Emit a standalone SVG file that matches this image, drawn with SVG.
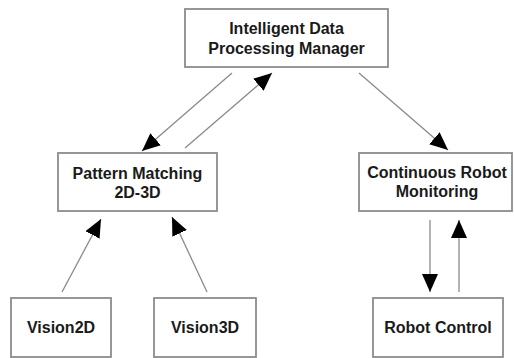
<svg xmlns="http://www.w3.org/2000/svg" width="514" height="358" viewBox="0 0 514 358">
<defs>
<style>
.box{fill:#fff;stroke:#8c8c8c;stroke-width:1.8}
.lbl{font-family:"Liberation Sans",Arial,sans-serif;font-weight:bold;font-size:16px;fill:#1a1a1a;text-anchor:middle}
.edge{stroke:#8a8a8a;stroke-width:1.3;fill:none;marker-end:url(#ah)}
</style>
<marker id="ah" markerUnits="userSpaceOnUse" markerWidth="19" markerHeight="17" refX="18" refY="8" orient="auto">
<path d="M0,0 L18,8 L0,16 Z" fill="#000"/>
</marker>
</defs>
<rect width="514" height="358" fill="#fff"/>
<g id="connectors">
<line class="edge" x1="232" y1="73" x2="142" y2="151"/>
<line class="edge" x1="185" y1="148" x2="272" y2="73"/>
<line class="edge" x1="359" y1="73" x2="448" y2="150"/>
<line class="edge" x1="62" y1="292" x2="101" y2="219"/>
<line class="edge" x1="207" y1="292" x2="172" y2="217"/>
<line class="edge" x1="430" y1="220" x2="430" y2="292"/>
<line class="edge" x1="459" y1="292" x2="459" y2="220"/>
</g>
<g id="manager">
<rect class="box" x="185" y="9" width="203" height="58"/>
<text class="lbl" x="286.5" y="33.5">Intelligent Data</text>
<text class="lbl" x="286.5" y="54">Processing Manager</text>
</g>
<g id="pattern">
<rect class="box" x="58" y="153" width="159" height="58"/>
<text class="lbl" x="137.5" y="178.5">Pattern Matching</text>
<text class="lbl" x="137.5" y="197.5">2D-3D</text>
</g>
<g id="monitoring">
<rect class="box" x="359" y="153" width="153" height="58"/>
<text class="lbl" x="437" y="178">Continuous Robot</text>
<text class="lbl" x="437" y="197">Monitoring</text>
</g>
<g id="vision2d">
<rect class="box" x="11" y="298" width="100" height="59"/>
<text class="lbl" x="61" y="332.5">Vision2D</text>
</g>
<g id="vision3d">
<rect class="box" x="154" y="298" width="102" height="59"/>
<text class="lbl" x="205" y="332.5">Vision3D</text>
</g>
<g id="robotcontrol">
<rect class="box" x="373" y="298" width="130" height="59"/>
<text class="lbl" x="438" y="332.5">Robot Control</text>
</g>
</svg>
